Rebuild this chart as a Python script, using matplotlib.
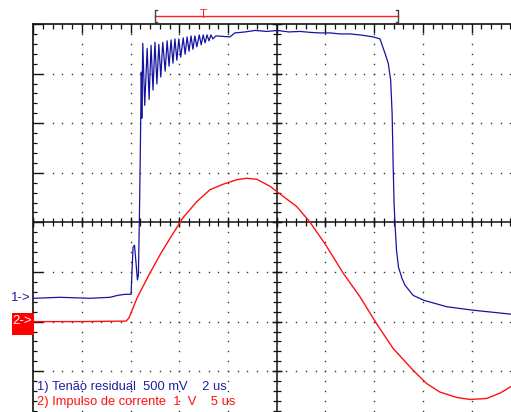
import matplotlib
matplotlib.use('Agg')
import matplotlib.pyplot as plt
import numpy as np
from matplotlib.patches import Rectangle

# ---- data (screen divisions: x 0..10, y -4..4) ----
blue_x = [0.02, 0.55, 1.17, 1.58, 1.74, 1.89, 2.01, 2.03, 2.05, 2.08, 2.11, 2.14, 2.16, 2.18, 2.20,
          2.22, 2.23, 2.25, 2.29, 2.34, 2.38, 2.42, 2.46, 2.50, 2.54, 2.58, 2.62, 2.66, 2.71, 2.75,
          2.79, 2.83, 2.87, 2.91, 2.95, 2.99, 3.03, 3.08, 3.12, 3.16, 3.20, 3.24, 3.28, 3.32, 3.36,
          3.41, 3.45, 3.49, 3.53, 3.57, 3.61, 3.65, 3.69, 3.75, 4.04, 4.14, 4.35, 4.56, 4.80, 5.01,
          5.25, 5.48, 5.70, 5.89, 6.10, 6.30, 6.50, 6.71, 6.98,
          7.12, 7.22, 7.29, 7.34, 7.37, 7.39, 7.41, 7.43, 7.46, 7.50, 7.57, 7.63, 7.80, 8.02, 8.49,
          9.03, 9.81, 10.0]
blue_y = [-1.53, -1.51, -1.53, -1.51, -1.47, -1.45, -1.45, -0.96, -0.50, -0.46, -0.80, -1.16, -1.06, 0.05, 1.46,
          3.03, 2.10, 3.61, 2.36, 3.51, 2.48, 3.57, 2.67, 3.63, 2.79, 3.59, 2.93, 3.63, 3.05, 3.66,
          3.15, 3.68, 3.21, 3.70, 3.27, 3.70, 3.33, 3.72, 3.39, 3.74, 3.45, 3.76, 3.49, 3.76, 3.54,
          3.78, 3.58, 3.78, 3.62, 3.78, 3.66, 3.78, 3.70, 3.76, 3.74, 3.82, 3.84, 3.87, 3.85, 3.87,
          3.84, 3.85, 3.83, 3.82, 3.82, 3.80, 3.80, 3.78, 3.74,
          3.70, 3.42, 3.21, 2.87, 2.20, 1.20, 0.39, -0.05, -0.56, -0.90, -1.12, -1.26, -1.47, -1.57, -1.70,
          -1.77, -1.85, -1.86]

red_x = [0.0, 0.96, 1.91, 1.97, 2.13, 2.36, 2.60, 2.81, 3.08, 3.36, 3.63, 3.90, 4.18, 4.38, 4.59,
         4.86, 5.14, 5.41, 5.68, 6.01, 6.37, 6.71, 7.05, 7.39, 7.80, 8.08, 8.35, 8.70, 8.97,
         9.31, 9.59, 9.81, 10.0]
red_y = [-2.0, -2.0, -1.99, -1.92, -1.53, -1.09, -0.66, -0.32, 0.10, 0.42, 0.66, 0.77, 0.86, 0.89, 0.87,
         0.73, 0.52, 0.32, 0.01, -0.46, -1.03, -1.50, -2.04, -2.54, -2.98, -3.25, -3.42, -3.53, -3.57,
         -3.55, -3.44, -3.31, -3.22]

legend1 = "1) Tenão residual  500 mV    2 us"
legend2 = "2) Impulso de corrente  1  V    5 us"
marker1 = "1->"
marker2 = "2->"
trig_start, trig_end, trig_pos = 2.50, 7.49, 3.49

# ---- layout ----
W, H = 511, 412
DIV_W, DIV_H, X0, Y_TOP = 48.7, 49.6, 33.2, 24.0
fig = plt.figure(figsize=(W / 100, H / 100), dpi=100)
fig.patch.set_facecolor('white')
ax = fig.add_axes([X0 / W, (H - (Y_TOP + 8 * DIV_H)) / H, 10 * DIV_W / W, 8 * DIV_H / H])
ax.set_xlim(0, 10)
ax.set_ylim(-4, 4)
ax.set_facecolor('white')
for s in ['right', 'bottom']:
    ax.spines[s].set_visible(False)
for s in ['left', 'top']:
    ax.spines[s].set_linewidth(1.2)
    ax.spines[s].set_color('#111111')

ax.xaxis.set_ticks_position('top')
ax.yaxis.set_ticks_position('left')
ax.set_xticks(np.arange(0, 11, 1))
ax.set_xticks(np.arange(0, 10.01, 0.2), minor=True)
ax.set_yticks(np.arange(-4, 5, 1))
ax.set_yticks(np.arange(-4, 4.01, 0.2), minor=True)
ax.tick_params(axis='x', which='major', direction='in', length=6.5, width=1.0, color='#111111',
               labeltop=False, labelbottom=False)
ax.tick_params(axis='x', which='minor', direction='in', length=3.6, width=0.9, color='#111111')
ax.tick_params(axis='y', which='major', direction='in', length=7.2, width=1.0, color='#111111',
               labelleft=False)
ax.tick_params(axis='y', which='minor', direction='in', length=2.9, width=0.9, color='#111111')

# dotted graticule
sub_y = np.arange(-4, 4.01, 0.2)
sub_x = np.arange(0, 10.01, 0.2)
for xi in range(1, 10):
    if xi == 5:
        continue
    ax.plot([xi] * len(sub_y), sub_y, ls='', marker='s', ms=1.0, mew=0, color='#333333')
for yi in range(-3, 4):
    if yi == 0:
        continue
    ax.plot(sub_x, [yi] * len(sub_x), ls='', marker='s', ms=1.0, mew=0, color='#333333')

# center cross with ticks
ax.axhline(0, color='#111111', lw=1.1)
ax.axvline(5, color='#111111', lw=1.1)
ax.plot(sub_x, np.zeros_like(sub_x), ls='', marker='|', ms=5.5, mew=0.9, color='#111111')
ax.plot(np.arange(0, 11, 1), np.zeros(11), ls='', marker='|', ms=7.5, mew=1.0, color='#111111')
ax.plot(np.full_like(sub_y, 5), sub_y, ls='', marker='_', ms=5.5, mew=0.9, color='#111111')
ax.plot(np.full(9, 5), np.arange(-4, 5, 1), ls='', marker='_', ms=7.5, mew=1.0, color='#111111')

# traces
ax.plot(red_x, red_y, color='#ff1010', lw=1.0, zorder=5, solid_joinstyle='round')
ax.plot(blue_x, blue_y, color='#1414a0', lw=0.9, zorder=6)

# trigger bar
ty = 4.16
ax.plot([trig_start, trig_end], [ty, ty], color='#ff2020', lw=1.0, clip_on=False)
for xe, d in [(trig_start, 0.04), (trig_end, -0.04)]:
    ax.plot([xe + d, xe, xe, xe + d], [ty + 0.12, ty + 0.12, ty - 0.12, ty - 0.12],
            color='#444444', lw=1.0, clip_on=False)
ax.text(trig_pos, ty + 0.02, 'T', color='#ff2020', fontsize=8.5, ha='center', va='center',
        family='Liberation Sans', clip_on=False)

# channel markers
fig.text(31 / W, 1 - 298 / H, marker1, color='#1c1ca0', ha='right', va='center',
         fontsize=9.5, family='Liberation Sans')
fig.add_artist(Rectangle((12 / W, 1 - 335 / H), 22 / W, 22.5 / H, transform=fig.transFigure,
                         facecolor='#ff0000', edgecolor='none'))
fig.text(12.5 / W, 1 - 321.5 / H, marker2, color='white', ha='left', va='center',
         fontsize=9.5, family='Liberation Sans')

# legend text
fig.text(37 / W, 1 - 387 / H, legend1, color='#2020a0', ha='left', va='center',
         fontsize=9.3, family='Liberation Sans')
fig.text(37 / W, 1 - 402 / H, legend2, color='#ff1010', ha='left', va='center',
         fontsize=9.3, family='Liberation Sans')

fig.savefig('out.png', dpi=100, facecolor='white')
